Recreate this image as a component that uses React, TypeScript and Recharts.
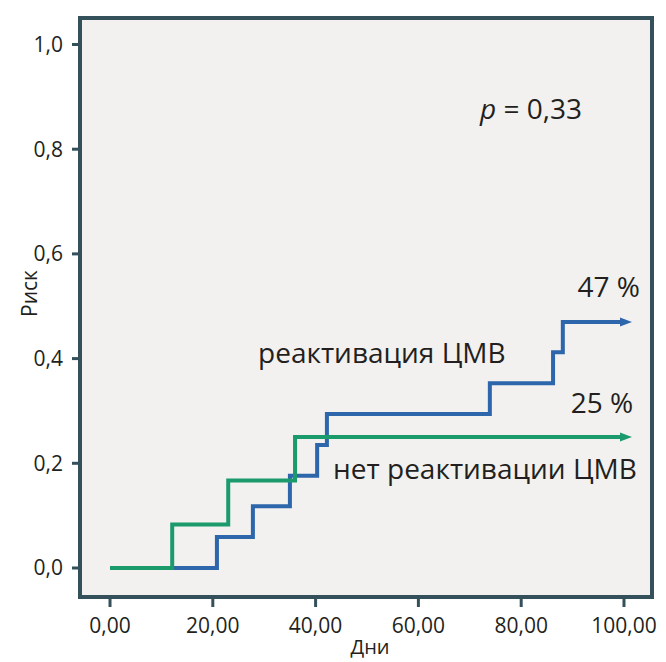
import React from "react";
import {
  CartesianGrid,
  Line,
  LineChart,
  ReferenceDot,
  XAxis,
  YAxis,
} from "recharts";

// Kaplan-Meier style cumulative risk
const reactDays = [0, 20.8, 27.8, 35, 40.3, 42.2, 73.9, 86.2, 88.1, 100];
const reactRisk = [0, 0.059, 0.118, 0.176, 0.235, 0.294, 0.353, 0.412, 0.47, 0.47];
const noReactDays = [0, 12.1, 23, 36, 100];
const noReactRisk = [0, 0.083, 0.167, 0.25, 0.25];

const xTicks = [0, 20, 40, 60, 80, 100];
const yTicks = [0, 0.2, 0.4, 0.6, 0.8, 1.0];

const reactLabel = "реактивация ЦМВ";
const noReactLabel = "нет реактивации ЦМВ";
const reactFinal = "47 %";
const noReactFinal = "25 %";
const pValue = "0,33";

const reactData = reactDays.map((d, i) => ({ day: d, risk: reactRisk[i] }));
const noReactData = noReactDays.map((d, i) => ({ day: d, risk: noReactRisk[i] }));

const FRAME = "#34505b";
const INK = "#231f20";
const BLUE = "#2d66ab";
const GREEN = "#1b9a6c";

const arrowDot = (color: string, lastIndex: number) => (props: any) => {
  const { cx, cy, index } = props;
  if (index !== lastIndex) return <g key={`d-${index}`} />;
  return (
    <path
      key={`d-${index}`}
      d={`M${cx - 4},${cy - 4.5} L${cx + 8},${cy} L${cx - 4},${cy + 4.5} Z`}
      fill={color}
    />
  );
};

const note =
  (content: React.ReactNode, anchor: "start" | "end", size = 28) =>
  (props: any) => {
    const vb = props.viewBox || {};
    return (
      <text x={vb.x} y={vb.y} textAnchor={anchor} fontSize={size} fill={INK}>
        {content}
      </text>
    );
  };

export default function App() {
  return (
    <div
      style={{
        position: "absolute",
        left: 0,
        top: 0,
        width: 666,
        height: 662,
        background: "#fff",
        fontFamily: "'Open Sans', 'Noto Sans', sans-serif",
      }}
    >
      <LineChart
        width={666}
        height={662}
        margin={{ top: 16, right: 12, bottom: 0, left: 0 }}
      >
        <CartesianGrid
          xAxisId="b"
          yAxisId="l"
          horizontal={false}
          vertical={false}
          fill="#f2f1ef"
        />
        <XAxis
          xAxisId="b"
          type="number"
          dataKey="day"
          domain={[-5.84, 105.45]}
          allowDataOverflow
          ticks={xTicks}
          interval={0}
          height={65}
          tickFormatter={(v: number) => v.toFixed(2).replace(".", ",")}
          tick={{ fontSize: 21, fill: INK }}
          tickSize={10}
          tickMargin={11}
          axisLine={{ stroke: FRAME, strokeWidth: 4, strokeLinecap: "square" }}
          tickLine={{ stroke: FRAME, strokeWidth: 3 }}
          label={{
            content: (p: any) => {
              const vb = p.viewBox;
              return (
                <text
                  x={vb.x + vb.width / 2 + 4}
                  y={vb.y + 57}
                  textAnchor="middle"
                  fontSize={20}
                  fill={INK}
                >
                  Дни
                </text>
              );
            },
          }}
        />
        <XAxis
          xAxisId="t"
          orientation="top"
          type="number"
          domain={[0, 1]}
          height={2}
          tick={false}
          tickLine={false}
          axisLine={{ stroke: FRAME, strokeWidth: 4, strokeLinecap: "square" }}
        />
        <YAxis
          yAxisId="l"
          type="number"
          domain={[-0.0554, 1.0506]}
          allowDataOverflow
          ticks={yTicks}
          interval={0}
          width={80}
          tickFormatter={(v: number) => v.toFixed(1).replace(".", ",")}
          tick={{ fontSize: 21, fill: INK }}
          tickSize={8}
          tickMargin={9}
          axisLine={{ stroke: FRAME, strokeWidth: 4, strokeLinecap: "square" }}
          tickLine={{ stroke: FRAME, strokeWidth: 3 }}
          label={{
            content: (p: any) => {
              const vb = p.viewBox;
              const x = vb.x + 37;
              const y = vb.y + vb.height / 2 - 14;
              return (
                <text
                  x={x}
                  y={y}
                  textAnchor="middle"
                  fontSize={21}
                  fill={INK}
                  transform={`rotate(-90 ${x} ${y})`}
                >
                  Риск
                </text>
              );
            },
          }}
        />
        <YAxis
          yAxisId="r"
          orientation="right"
          type="number"
          domain={[0, 1]}
          width={2}
          tick={false}
          tickLine={false}
          axisLine={{ stroke: FRAME, strokeWidth: 4, strokeLinecap: "square" }}
        />

        <Line
          xAxisId="b"
          yAxisId="l"
          data={reactData}
          dataKey="risk"
          type="stepAfter"
          stroke={BLUE}
          strokeWidth={4}
          dot={arrowDot(BLUE, reactData.length - 1)}
          activeDot={false}
          isAnimationActive={false}
        />
        <Line
          xAxisId="b"
          yAxisId="l"
          data={noReactData}
          dataKey="risk"
          type="stepAfter"
          stroke={GREEN}
          strokeWidth={4}
          dot={arrowDot(GREEN, noReactData.length - 1)}
          activeDot={false}
          isAnimationActive={false}
        />

        <ReferenceDot
          xAxisId="b"
          yAxisId="l"
          x={72}
          y={0.858}
          r={0}
          fill="none"
          stroke="none"
          label={{
            content: note(
              <>
                <tspan fontStyle="italic">p</tspan> = {pValue}
              </>,
              "start"
            ),
          }}
        />
        <ReferenceDot
          xAxisId="b"
          yAxisId="l"
          x={103.1}
          y={0.518}
          r={0}
          fill="none"
          stroke="none"
          label={{ content: note(reactFinal, "end") }}
        />
        <ReferenceDot
          xAxisId="b"
          yAxisId="l"
          x={28.8}
          y={0.392}
          r={0}
          fill="none"
          stroke="none"
          label={{ content: note(reactLabel, "start") }}
        />
        <ReferenceDot
          xAxisId="b"
          yAxisId="l"
          x={101.8}
          y={0.296}
          r={0}
          fill="none"
          stroke="none"
          label={{ content: note(noReactFinal, "end") }}
        />
        <ReferenceDot
          xAxisId="b"
          yAxisId="l"
          x={102.5}
          y={0.17}
          r={0}
          fill="none"
          stroke="none"
          label={{ content: note(noReactLabel, "end") }}
        />
      </LineChart>
    </div>
  );
}
